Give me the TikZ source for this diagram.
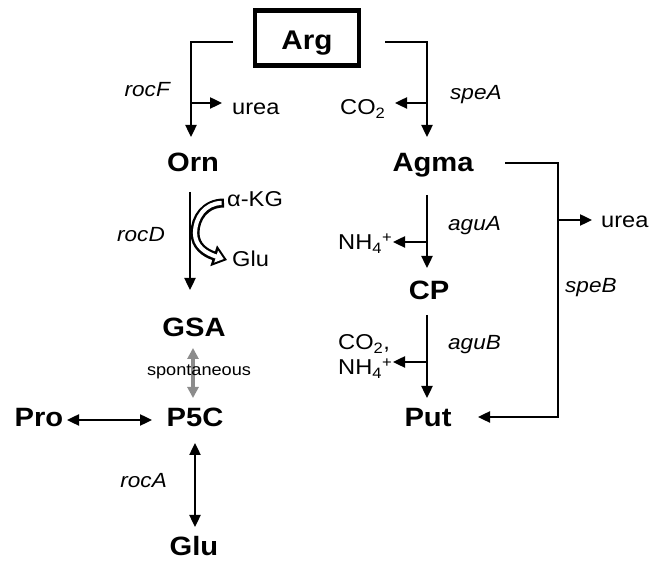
\documentclass[tikz,border=0pt]{standalone}
\usepackage{fontspec}
\setmainfont{Liberation Sans}[FakeStretch=1.1]
\usetikzlibrary{arrows.meta}
\definecolor{spgray}{RGB}{140,140,140}
\begin{document}
\begin{tikzpicture}[x=1pt,y=-1pt,
  mainlbl/.style={font=\fontsize{26.5}{30}\selectfont\bfseries, inner sep=0pt, anchor=base},
  sidelbl/.style={font=\fontsize{21.5}{25}\selectfont, inner sep=0pt},
  genelbl/.style={font=\fontsize{20.5}{24}\selectfont\itshape, inner sep=0pt},
  conn/.style={line width=2.4pt, -{Triangle[length=12pt,width=11pt]}},
  bconn/.style={line width=2.4pt, {Triangle[length=12pt,width=11pt]}-{Triangle[length=12pt,width=11pt]}},
  gconn/.style={line width=3.2pt, spgray, {Triangle[length=11pt,width=11pt]}-{Triangle[length=11pt,width=11pt]}}
]
\useasboundingbox (0,0) rectangle (649,561);

% metabolites
\node[draw, line width=4.5pt, minimum width=104pt, minimum height=55pt, inner sep=0pt,
      font=\fontsize{27}{30}\selectfont\bfseries, text height=23pt, text depth=0pt] (Arg) at (307,38) {Arg};
\node[mainlbl] (Orn) at (193,172) {Orn};
\node[mainlbl] (Agma) at (433,172) {Agma};
\node[mainlbl] (GSA) at (194,337) {GSA};
\node[mainlbl] (P5C) at (195,427) {P5C};
\node[mainlbl] (Pro) at (39,427) {Pro};
\node[mainlbl] (Glu) at (194,556) {Glu};
\node[mainlbl] (CP) at (429,300) {CP};
\node[mainlbl] (Put) at (428,427) {Put};

% side products
\node[sidelbl, anchor=base west] (ureaA) at (232,115) {urea};
\node[sidelbl, anchor=base west] (co2A) at (340,115) {CO\textsubscript{2}};
\node[sidelbl, anchor=base west] (akg) at (227,207) {α-KG};
\node[sidelbl, anchor=base west] (gluS) at (232,267) {Glu};
\node[sidelbl, anchor=base west] (nh4A) at (338,250) {NH\textsubscript{4}\textsuperscript{+}};
\node[sidelbl, anchor=base west] (co2B) at (338,350) {CO\textsubscript{2},};
\node[sidelbl, anchor=base west] (nh4B) at (338,375) {NH\textsubscript{4}\textsuperscript{+}};
\node[sidelbl, anchor=base west] (ureaB) at (601,228) {urea};

% genes
\node[genelbl, anchor=base east] (rocF) at (170,97) {rocF};
\node[genelbl, anchor=base west] (speA) at (450,100) {speA};
\node[genelbl, anchor=base east] (rocD) at (165,242) {rocD};
\node[genelbl, anchor=base west] (aguA) at (448,231) {aguA};
\node[genelbl, anchor=base west] (aguB) at (448,350) {aguB};
\node[genelbl, anchor=base west] (speB) at (565,293) {speB};
\node[genelbl, anchor=base east] (rocA) at (167,488) {rocA};

% connector points
\coordinate (lA) at (233,42);  \coordinate (lB) at (191,42);  \coordinate (lC) at (191,137);
\coordinate (lD) at (191,103); \coordinate (lE) at (222,103);
\coordinate (rA) at (385,42);  \coordinate (rB) at (427,42);  \coordinate (rC) at (427,137);
\coordinate (rD) at (427,103); \coordinate (rE) at (395,103);
\coordinate (oA) at (190,192); \coordinate (oB) at (190,290);
\coordinate (sA) at (193,348); \coordinate (sB) at (193,398);
\coordinate (pA) at (67,420);  \coordinate (pB) at (152,420);
\coordinate (gA) at (195,443); \coordinate (gB) at (195,527);
\coordinate (mA) at (427,195); \coordinate (mB) at (427,268);
\coordinate (mC) at (427,242); \coordinate (mD) at (393,242);
\coordinate (cA) at (427,315); \coordinate (cB) at (427,398);
\coordinate (cC) at (427,362); \coordinate (cD) at (393,362);
\coordinate (eA) at (505,163); \coordinate (eB) at (558,163);
\coordinate (eC) at (558,417); \coordinate (eD) at (478,417);
\coordinate (eE) at (558,220); \coordinate (eF) at (592,220);

% connectors
\draw[conn] (lA) -- (lB) -- (lC);
\draw[conn] (lD) -- (lE);
\draw[conn] (rA) -- (rB) -- (rC);
\draw[conn] (rD) -- (rE);
\draw[conn] (oA) -- (oB);
\draw[gconn] (sA) -- (sB);
\draw[bconn] (pA) -- (pB);
\draw[bconn] (gA) -- (gB);
\draw[conn] (mA) -- (mB);
\draw[conn] (mC) -- (mD);
\draw[conn] (cA) -- (cB);
\draw[conn] (cC) -- (cD);
\draw[conn] (eA) -- (eB) -- (eC) -- (eD);
\draw[conn] (eE) -- (eF);

% open curved arrow alpha-KG -> Glu
\coordinate (kA) at (224,203);
\coordinate (kM) at (195,233);
\coordinate (kB) at (227,260);
\draw[line width=9pt, -{Triangle[length=14pt,width=21pt]}]
  (kA) .. controls (205,203) and (195,218) .. (kM) .. controls (195,246) and (205,253) .. (kB);
\draw[white, line width=4.2pt, shorten <=2.4pt, shorten >=3.4pt, -{Triangle[length=8pt,width=12pt]}]
  (kA) .. controls (205,203) and (195,218) .. (kM) .. controls (195,246) and (205,253) .. (kB);

\node[font=\fontsize{16.5}{20}\selectfont, inner sep=0pt, anchor=base] (spont) at (199,376) {spontaneous};
\end{tikzpicture}
\end{document}
